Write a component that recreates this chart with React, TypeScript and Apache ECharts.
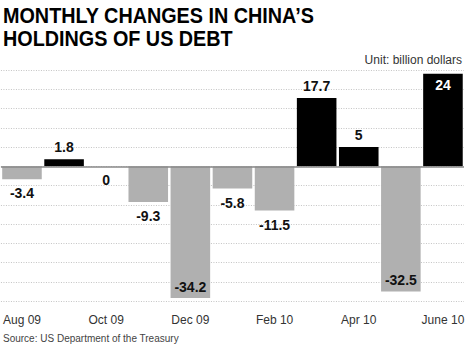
import React, { useEffect, useRef } from "react";
import * as echarts from "echarts";

const categories = ["Aug 09", "Sep 09", "Oct 09", "Nov 09", "Dec 09", "Jan 10", "Feb 10", "Mar 10", "Apr 10", "May 10", "June 10"];
const values = [-3.4, 1.8, 0, -9.3, -34.2, -5.8, -11.5, 17.7, 5, -32.5, 24];
const titleLines = ["MONTHLY CHANGES IN CHINA\u2019S", "HOLDINGS OF US DEBT"];
const unitText = "Unit: billion dollars";
const sourceText = "Source: US Department of the Treasury";

const FONT = "'Liberation Sans', Arial, sans-serif";

export default function App() {
  const ref = useRef<HTMLDivElement>(null);
  useEffect(() => {
    document.body.style.margin = "0";
    const chart = echarts.init(ref.current!, undefined, { renderer: "svg" });
    const data = values.map((v) => {
      const inside = Math.abs(v) >= 20;
      const pos = v > 0 ? "top" : "bottom";
      return {
        value: v,
        itemStyle: { color: v > 0 ? "#000000" : "#b0b0b0" },
        label: {
          show: true,
          position: inside ? (v > 0 ? "insideTop" : "insideBottom") : pos,
          distance: inside ? 4 : v > 0 ? 5 : 7,
          color: inside && v > 0 ? "#ffffff" : "#111111",
          formatter: String(v),
        },
      };
    });
    chart.setOption({
      animation: false,
      grid: { left: 0, right: 6, top: 70, bottom: 52 },
      xAxis: {
        type: "category",
        data: categories,
        axisLine: { show: false },
        axisTick: { show: false },
        axisLabel: {
          interval: 1,
          margin: 13,
          fontSize: 12,
          color: "#333333",
          fontFamily: FONT,
        },
      },
      yAxis: {
        type: "value",
        min: -35,
        max: 25,
        interval: 5,
        axisLabel: { show: false },
        axisLine: { show: false },
        axisTick: { show: false },
        splitLine: { lineStyle: { color: "#c4c4c4", type: [1, 1.5], width: 1 } },
      },
      series: [
        {
          type: "bar",
          data,
          barCategoryGap: "6%",
          label: {
            fontFamily: FONT,
            fontSize: 14,
            fontWeight: "bold",
          },
          markLine: {
            silent: true,
            symbol: "none",
            label: { show: false },
            lineStyle: { color: "#888888", type: "solid", width: 1.5 },
            data: [{ yAxis: 0 }],
          },
        },
      ],
      graphic: [
        {
          type: "text",
          x: 3,
          y: 3,
          scaleX: 0.9,
          style: {
            text: titleLines.join("\n"),
            font: `900 22px ${FONT}`,
            lineHeight: 23.5,
            fill: "#000000",
          },
        },
        {
          type: "text",
          right: 8,
          top: 54,
          style: { text: unitText, font: `12px ${FONT}`, fill: "#333333" },
        },
        {
          type: "text",
          left: 3,
          top: 333,
          style: { text: sourceText, font: `10px ${FONT}`, fill: "#444444" },
        },
      ],
    });
    return () => chart.dispose();
  }, []);
  return <div ref={ref} style={{ position: "absolute", left: 0, top: 0, width: 470, height: 353 }} />;
}
